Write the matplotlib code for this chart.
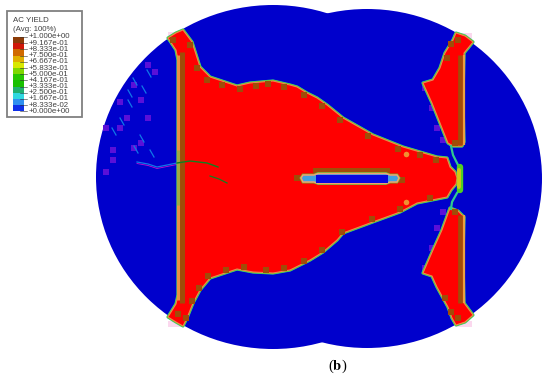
import matplotlib
matplotlib.use('Agg')
import matplotlib.pyplot as plt
from matplotlib.patches import Ellipse, Polygon, Rectangle

plt.rcParams['font.family'] = ['Liberation Sans', 'DejaVu Sans']
plt.rcParams['mathtext.fontset'] = 'stix'

# legend
legend_title = ['AC YIELD', '(Avg: 100%)']
legend_labels = ['+1.000e+00', '+9.167e-01', '+8.333e-01', '+7.500e-01', '+6.667e-01',
                 '+5.833e-01', '+5.000e-01', '+4.167e-01', '+3.333e-01', '+2.500e-01',
                 '+1.667e-01', '+8.333e-02', '+0.000e+00']
legend_colors = ['#8c3c08', '#d01808', '#d06a00', '#e0b000', '#d8e800', '#80d800',
                 '#28c800', '#18c000', '#20b070', '#30d8e0', '#3090f0', '#1030e8']

# outline of the disc, two overlapping ellipses (cx, cy, width, height)
left_lobe = (273, 177, 354, 344)
right_lobe = (367, 178.5, 350, 339)

# yielded regions, pixel coords
main_x = [168, 176, 178, 178, 176, 168, 176, 183, 187, 193, 200, 210, 237, 253, 273, 290, 310, 323,
          337, 343, 370, 400, 417, 447, 451, 456, 457, 455, 450, 447, 437, 403, 373, 343, 327, 317,
          307, 297, 290, 273, 250, 237, 210, 200, 192, 183, 176]
main_y = [38, 50, 60, 295, 304, 317, 322, 326, 318, 303, 290, 278, 269, 272, 273, 270, 260, 252,
          240, 233, 223, 212, 203, 197, 190, 184, 178, 172, 167, 158, 157, 147, 135, 118, 105, 98,
          93, 87, 85, 81, 83, 86, 77, 67, 42, 30, 33]

upper_x = [456, 465, 473, 464, 463, 464, 462, 453, 448, 440, 432, 423, 433, 440, 445, 453]
upper_y = [33, 36, 42, 53, 100, 142, 146, 146, 143, 123, 103, 83, 80, 68, 53, 40]
lower_x = [423, 432, 437, 448, 452, 456, 465, 473, 464, 463, 464, 458, 450, 442, 433]
lower_y = [273, 276, 287, 307, 318, 325, 322, 315, 303, 260, 217, 211, 208, 230, 250]

# central slit
slit_x = [301, 303, 314, 318, 386, 390, 397, 399, 397, 390, 386, 318, 314, 303]
slit_y = [178, 175, 175, 173.5, 173.5, 175, 175, 178, 182, 182, 183.5, 183.5, 182, 182]
slit_core_x = [316, 388, 388, 316]
slit_core_y = [175, 175, 182.5, 182.5]

# neck between the triangles and the main region
neck_up_x = [451, 453, 458, 461]
neck_up_y = [146, 155, 165, 169]
neck_low_x = [461, 457, 452, 451]
neck_low_y = [188, 193, 202, 209]

# cracks near the left wall
crack_blue_x = [137, 148, 157, 167, 177]
crack_blue_y = [162, 164, 167, 165, 163]
crack_green_x = [177, 190, 207, 218]
crack_green_y = [163, 161, 163, 167]
crack2_x = [210, 219, 227]
crack2_y = [176, 179, 183]

# coarse elements along the edges
brown_chips_x = [190, 197, 207, 222, 240, 256, 268, 284, 304, 322, 340, 368, 398, 420, 436,
                 430, 400, 372, 342, 322, 304, 284, 266, 244, 226, 208, 199, 192, 186,
                 447, 451, 445, 451, 173, 178, 455, 458, 455, 458, 297, 402]
brown_chips_y = [45, 68, 80, 85, 89, 86, 84, 87, 95, 106, 120, 136, 149, 155, 160,
                 198, 209, 219, 232, 250, 261, 268, 270, 267, 270, 276, 288, 301, 318,
                 58, 44, 298, 312, 40, 314, 143, 40, 212, 318, 178, 180]
purple_x = [106, 113, 120, 127, 134, 141, 148, 134, 113, 106, 120, 141, 155, 148, 425, 432, 437, 443, 425, 432, 437, 443]
purple_y = [128, 150, 102, 118, 85, 143, 65, 148, 160, 172, 128, 100, 72, 118, 88, 108, 128, 140, 268, 248, 228, 212]
crack_marks_x = [128, 133, 128, 142, 147, 140, 150, 134, 120, 112]
crack_marks_y = [90, 78, 100, 86, 70, 135, 150, 146, 118, 128]
pink_x = [168, 456, 168, 456]
pink_y = [32, 33, 321, 321]
spots_x = [406, 406]
spots_y = [154, 202]

blue = '#0000cc'
red = '#ff0000'
brown = '#a04c08'

fig = plt.figure(figsize=(5.5, 3.77), dpi=100)
ax = fig.add_axes([0, 0, 1, 1])
ax.set_xlim(0, 550)
ax.set_ylim(377, 0)
ax.axis('off')

for p in zip(pink_x, pink_y):
    ax.add_patch(Rectangle(p, 16, 6, fc='#fbd8ee', ec='none', zorder=0))

for cx, cy, w, h in [left_lobe, right_lobe]:
    ax.add_patch(Ellipse((cx, cy), w, h, fc=blue, ec='none', zorder=1))

ax.scatter(purple_x, purple_y, s=13, marker='s', c='#5a10d8', linewidths=0, zorder=2)
for x, y in zip(crack_marks_x, crack_marks_y):
    ax.plot([x, x + 4], [y, y + 7], color='#1078e8', lw=0.9, zorder=3)


def region(xs, ys):
    pts = list(zip(xs, ys))
    ax.add_patch(Polygon(pts, closed=True, fc='none', ec='#30c8a0', lw=2.3, joinstyle='round', zorder=4))
    ax.add_patch(Polygon(pts, closed=True, fc='none', ec='#60d020', lw=1.7, joinstyle='round', zorder=4))
    ax.add_patch(Polygon(pts, closed=True, fc=red, ec='#f08050', lw=0.8, joinstyle='round', zorder=5))


for xs, ys in [(main_x, main_y), (upper_x, upper_y), (lower_x, lower_y)]:
    region(xs, ys)

ax.scatter(brown_chips_x, brown_chips_y, s=22, marker='s', c=brown, linewidths=0, zorder=6)

# walls
ax.plot([181.5, 181.5], [52, 303], color=brown, lw=3.6, solid_capstyle='butt', zorder=6)
ax.plot([177.5, 177.5], [55, 300], color='#e89040', lw=2.2, solid_capstyle='butt', zorder=7)
ax.plot([177.5, 177.5], [150, 205], color='#a0a840', lw=2.2, solid_capstyle='butt', zorder=7)
for y0, y1 in [(55, 145), (215, 303)]:
    ax.plot([459.5, 459.5], [y0, y1], color=brown, lw=3.4, solid_capstyle='butt', zorder=6)
    ax.plot([463.5, 463.5], [y0, y1], color='#e8a040', lw=1.6, solid_capstyle='butt', zorder=7)

# neck and centre bar
ax.plot(neck_up_x, neck_up_y, color='#30c890', lw=1.6, zorder=6)
ax.plot(neck_low_x, neck_low_y, color='#30c890', lw=1.6, zorder=6)
ax.plot([460, 460], [167, 190], color='#50d020', lw=4.6, solid_capstyle='round', zorder=6)
ax.plot([459, 459], [170, 187], color='#d0c818', lw=2.8, solid_capstyle='round', zorder=7)
ax.scatter(spots_x, spots_y, s=16, c='#f09030', linewidths=0, zorder=7)

# cracks
ax.plot(crack_blue_x, crack_blue_y, color='#1078e8', lw=0.9, zorder=3)
ax.plot(crack_blue_x, [v + 1.5 for v in crack_blue_y], color='#c010d0', lw=0.6, zorder=3)
ax.plot(crack_green_x, crack_green_y, color='#108020', lw=1.0, zorder=8)
ax.plot(crack2_x, crack2_y, color='#108020', lw=0.9, zorder=8)

# slit
ax.add_patch(Rectangle((313, 168), 77, 5, fc=brown, ec='none', zorder=7))
ax.add_patch(Polygon(list(zip(slit_x, slit_y)), closed=True, fc='#40c0c8', ec='#60c030', lw=2.0, zorder=8))
ax.add_patch(Polygon(list(zip(slit_x, slit_y)), closed=True, fc='#40a0e0', ec='#f0a070', lw=1.1, zorder=9))
ax.add_patch(Polygon(list(zip(slit_core_x, slit_core_y)), closed=True, fc='#0808e0', ec='none', zorder=10))

# legend box
ax.add_patch(Rectangle((6.5, 10.5), 75, 106.5, fc='white', ec='#808080', lw=1.3, zorder=20))
ax.text(13, 21, legend_title[0], fontsize=5.7, color='#404040', va='center', zorder=21)
ax.text(13, 29.5, legend_title[1], fontsize=5.7, color='#404040', va='center', zorder=21)
y_top = 37.0
step = 6.2
for i, c in enumerate(legend_colors):
    ax.add_patch(Rectangle((13, y_top + i * step), 11, step, fc=c, ec='none', zorder=21))
for i, lab in enumerate(legend_labels):
    ax.text(29, y_top + i * step, lab, fontsize=5.7, color='#404040', va='center', zorder=21)
    ax.plot([20, 27], [y_top + i * step] * 2, color='#303030', lw=0.4, zorder=22)

ax.text(338, 366, r'($\mathbf{b}$)', fontsize=10.5, family='Liberation Serif', ha='center', va='center', color='black')

fig.savefig('out.png', dpi=100)
